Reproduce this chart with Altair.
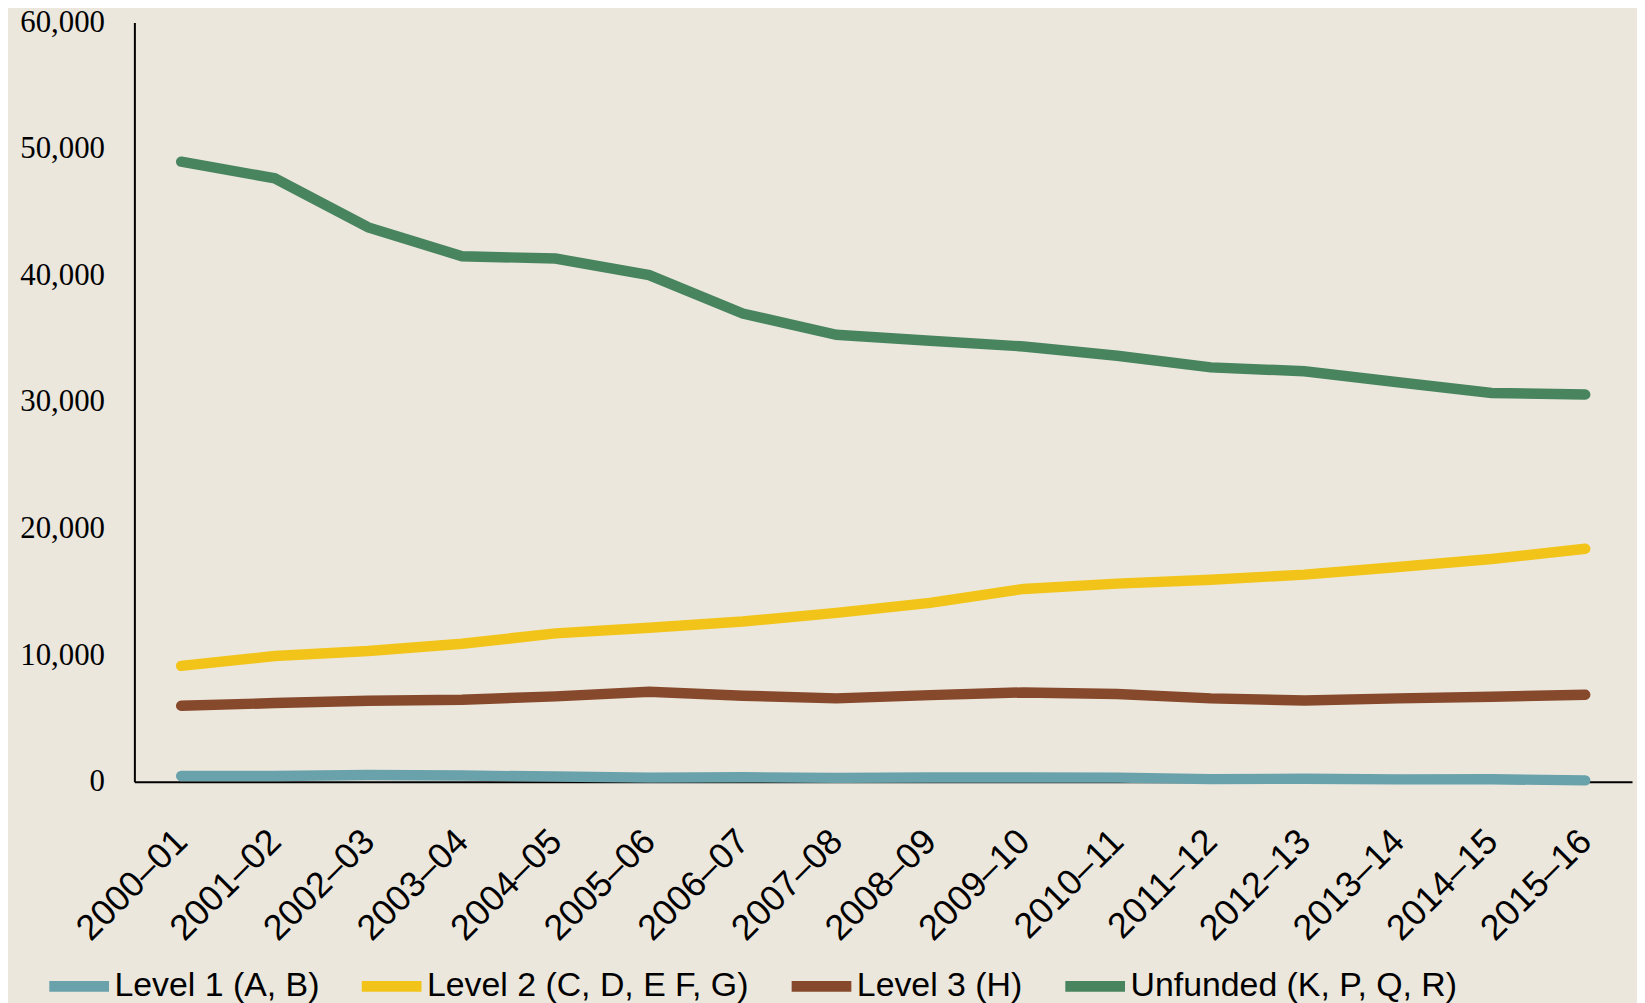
import altair as alt
import pandas as pd

years = ["2000–01", "2001–02", "2002–03", "2003–04", "2004–05", "2005–06",
         "2006–07", "2007–08", "2008–09", "2009–10", "2010–11", "2011–12",
         "2012–13", "2013–14", "2014–15", "2015–16"]

series_names = ["Level 1 (A, B)", "Level 2 (C, D, E F, G)", "Level 3 (H)", "Unfunded (K, P, Q, R)"]
series_colors = ["#69a2ab", "#f2c419", "#87492c", "#48845e"]

level1 = [450, 450, 520, 480, 400, 320, 350, 300, 330, 330, 320, 200, 230, 180, 190, 100]
level2 = [9150, 9930, 10320, 10900, 11720, 12160, 12650, 13340, 14130, 15230, 15650, 15960, 16360, 16960, 17600, 18400]
level3 = [6000, 6210, 6400, 6470, 6740, 7100, 6790, 6580, 6840, 7050, 6920, 6580, 6420, 6580, 6710, 6870]
unfunded = [48990, 47680, 43800, 41520, 41340, 40030, 36990, 35310, 34840, 34390, 33660, 32740, 32430, 31560, 30720, 30590]

y_ticks = [0, 10000, 20000, 30000, 40000, 50000, 60000]

rows = []
for name, vals in zip(series_names, [level1, level2, level3, unfunded]):
    for yr, v in zip(years, vals):
        rows.append({"year": yr, "series": name, "value": v})
df = pd.DataFrame(rows)

chart = alt.Chart(df).mark_line(strokeWidth=10.5, strokeCap="round").encode(
    x=alt.X("year:N", sort=years, title=None,
            scale=alt.Scale(type="point", padding=0.5),
            axis=alt.Axis(labelAngle=-45, labelFont="Liberation Sans", labelFontSize=36,
                          labelColor="#000000", ticks=False, domainColor="#000000",
                          domainWidth=2, labelPadding=42, labelOffset=-12, grid=False)),
    y=alt.Y("value:Q", title=None,
            scale=alt.Scale(domain=[0, 60000], nice=False),
            axis=alt.Axis(values=y_ticks, format=",.0f", grid=False, ticks=False,
                          labelFont="Liberation Serif", labelFontSize=31, labelColor="#000000",
                          domainColor="#000000", domainWidth=2, labelPadding=30)),
    color=alt.Color("series:N", sort=series_names,
                    scale=alt.Scale(domain=series_names, range=series_colors),
                    legend=alt.Legend(title=None, orient="none", legendX=-91, legendY=933,
                                      direction="horizontal", symbolType="stroke",
                                      symbolSize=3600, symbolStrokeWidth=11,
                                      labelFont="Liberation Sans", labelFontSize=34,
                                      labelColor="#000000", labelLimit=0,
                                      labelOffset=0, columnPadding=20)),
    order=alt.Order("series_order:Q")
).transform_calculate(
    series_order="indexof(['Level 1 (A, B)','Level 2 (C, D, E F, G)','Level 3 (H)','Unfunded (K, P, Q, R)'], datum.series)"
).properties(
    width=1505, height=763,
    autosize=alt.AutoSizeParams(type="none"),
    padding={"left": 127, "top": 12, "right": 5, "bottom": 225},
    background="#ebe7dd"
).configure_view(stroke=None)

chart.save("out.html", embed_options={"renderer": "svg", "actions": False})
